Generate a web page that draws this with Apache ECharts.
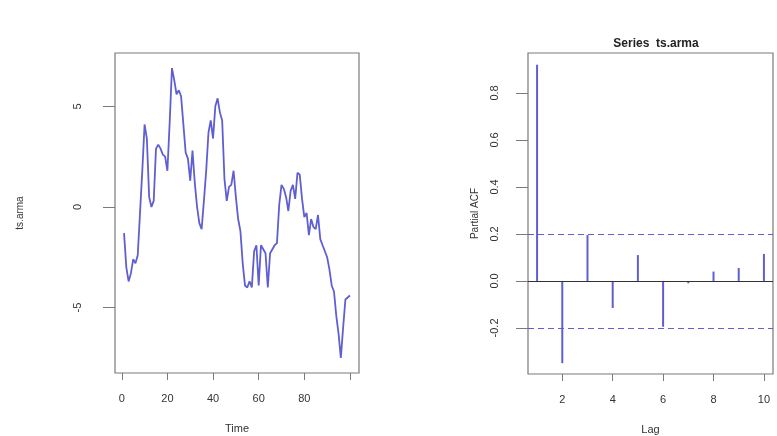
<!DOCTYPE html>
<html>
<head>
<meta charset="utf-8">
<script src="https://cdn.jsdelivr.net/npm/echarts@6/dist/echarts.min.js"></script>
<style>
  html, body { margin: 0; padding: 0; background: #fff; }
  #chart { width: 777px; height: 436px; }
</style>
</head>
<body>
<div id="chart"></div>
<script>
// Simulated ARMA series (time 1..100)
const seriesValues = [
  -1.3, -3.0, -3.7, -3.3, -2.6, -2.8, -2.4, -0.3, 1.8, 4.1,
  3.4, 0.5, 0.0, 0.3, 2.9, 3.1, 2.9, 2.6, 2.5, 1.8,
  4.2, 6.9, 6.3, 5.6, 5.8, 5.5, 4.1, 2.7, 2.4, 1.3,
  2.8, 1.2, 0.0, -0.8, -1.1, 0.3, 1.8, 3.7, 4.3, 3.4,
  5.0, 5.4, 4.7, 4.3, 1.4, 0.3, 1.0, 1.1, 1.8, 0.5,
  -0.6, -1.2, -2.8, -3.9, -4.0, -3.7, -4.0, -2.2, -1.9, -3.9,
  -1.9, -2.1, -2.3, -4.0, -2.3, -2.1, -1.9, -1.8, 0.1, 1.1,
  0.9, 0.5, -0.2, 0.8, 1.1, 0.4, 1.7, 1.6, 0.4, -0.5,
  -0.3, -1.4, -0.6, -1.0, -1.1, -0.4, -1.6, -1.9, -2.2, -2.5,
  -3.1, -3.9, -4.2, -5.4, -6.3, -7.5, -6.0, -4.6, -4.5, -4.4
];
const timeTicks = [0, 20, 40, 60, 80, 100];
const timeLabels = [0, 20, 40, 60, 80];
const seriesTicks = [-5, 0, 5];

// Partial autocorrelations by lag
const lags = [1, 2, 3, 4, 5, 6, 7, 8, 9, 10];
const pacfValues = [0.92, -0.35, 0.195, -0.115, 0.11, -0.195, -0.01, 0.04, 0.055, 0.115];
const lagTicks = [2, 4, 6, 8, 10];
const pacfTicks = [-0.2, 0.0, 0.2, 0.4, 0.6, 0.8];
const ciBound = 0.196;

const FONT = '"Liberation Sans", Arial, sans-serif';
const TXT = '#333';
const FRAME = '#7a7a7a';
const BLUE = '#5f5fd2';

const tsData = seriesValues.map((v, i) => [i + 1, v]);
const pacfData = lags.map((l, i) => [l, pacfValues[i]]);

const baseLabel = { color: TXT, fontFamily: FONT, fontSize: 11 };

const chart = echarts.init(document.getElementById('chart'), null, { renderer: 'canvas' });
chart.setOption({
  animation: false,
  backgroundColor: '#fff',
  title: {
    text: 'Series  ts.arma',
    left: 651, top: 33, textAlign: 'center',
    textStyle: { fontFamily: FONT, fontSize: 12, fontWeight: 'bold', color: '#222' }
  },
  grid: [
    { left: 115, top: 53, width: 244, height: 320, outerBoundsMode: 'none', containLabel: false,
      show: true, borderColor: FRAME, borderWidth: 1.2, backgroundColor: 'transparent' },
    { left: 528, top: 53, width: 245, height: 321, outerBoundsMode: 'none', containLabel: false,
      show: true, borderColor: FRAME, borderWidth: 1.2, backgroundColor: 'transparent' }
  ],
  xAxis: [
    {
      gridIndex: 0, type: 'value', min: -2.96, max: 103.96,
      name: 'Time', nameLocation: 'middle', nameGap: 50,
      nameTextStyle: { ...baseLabel, fontSize: 11 },
      axisLine: { show: false, onZero: false },
      splitLine: { show: false },
      axisTick: { show: true, length: 7, customValues: timeTicks, lineStyle: { color: FRAME } },
      axisLabel: { ...baseLabel, margin: 20, customValues: timeLabels }
    },
    {
      gridIndex: 1, type: 'value', min: 0.64, max: 10.36,
      name: 'Lag', nameLocation: 'middle', nameGap: 50,
      nameTextStyle: { ...baseLabel, fontSize: 11 },
      axisLine: { show: false, onZero: false },
      splitLine: { show: false },
      axisTick: { show: true, length: 7, customValues: lagTicks, lineStyle: { color: FRAME } },
      axisLabel: { ...baseLabel, margin: 20, customValues: lagTicks }
    }
  ],
  yAxis: [
    {
      gridIndex: 0, type: 'value', min: -8.25, max: 7.65,
      name: 'ts.arma', nameLocation: 'middle', nameGap: 90, nameRotate: 90,
      nameTextStyle: { ...baseLabel, fontSize: 10 },
      axisLine: { show: false, onZero: false },
      splitLine: { show: false },
      axisTick: { show: true, length: 12, customValues: seriesTicks, lineStyle: { color: FRAME } },
      axisLabel: { ...baseLabel, rotate: 90, margin: 32, customValues: seriesTicks }
    },
    {
      gridIndex: 1, type: 'value', min: -0.396, max: 0.97,
      name: 'Partial ACF', nameLocation: 'middle', nameGap: 48, nameRotate: 90,
      nameTextStyle: { ...baseLabel, fontSize: 10 },
      axisLine: { show: false, onZero: false },
      splitLine: { show: false },
      axisTick: { show: true, length: 12, customValues: pacfTicks, lineStyle: { color: FRAME } },
      axisLabel: {
        ...baseLabel, rotate: 90, margin: 28, customValues: pacfTicks,
        formatter: v => v.toFixed(1)
      }
    }
  ],
  series: [
    {
      type: 'line', xAxisIndex: 0, yAxisIndex: 0,
      data: tsData, symbol: 'none',
      lineStyle: { color: BLUE, width: 1.8 }
    },
    {
      type: 'bar', xAxisIndex: 1, yAxisIndex: 1,
      data: pacfData, barWidth: 2,
      itemStyle: { color: BLUE },
      markLine: {
        silent: true, symbol: 'none', label: { show: false },
        lineStyle: { color: BLUE, width: 1.2, type: [6, 4], opacity: 1 },
        emphasis: { disabled: true },
        data: [
          { yAxis: 0, lineStyle: { color: '#333', width: 1, type: 'solid' } },
          { yAxis: ciBound, lineStyle: { color: BLUE, width: 1.2, type: [6, 4] } },
          { yAxis: -ciBound, lineStyle: { color: BLUE, width: 1.2, type: [6, 4] } }
        ]
      }
    }
  ]
});
</script>
</body>
</html>
